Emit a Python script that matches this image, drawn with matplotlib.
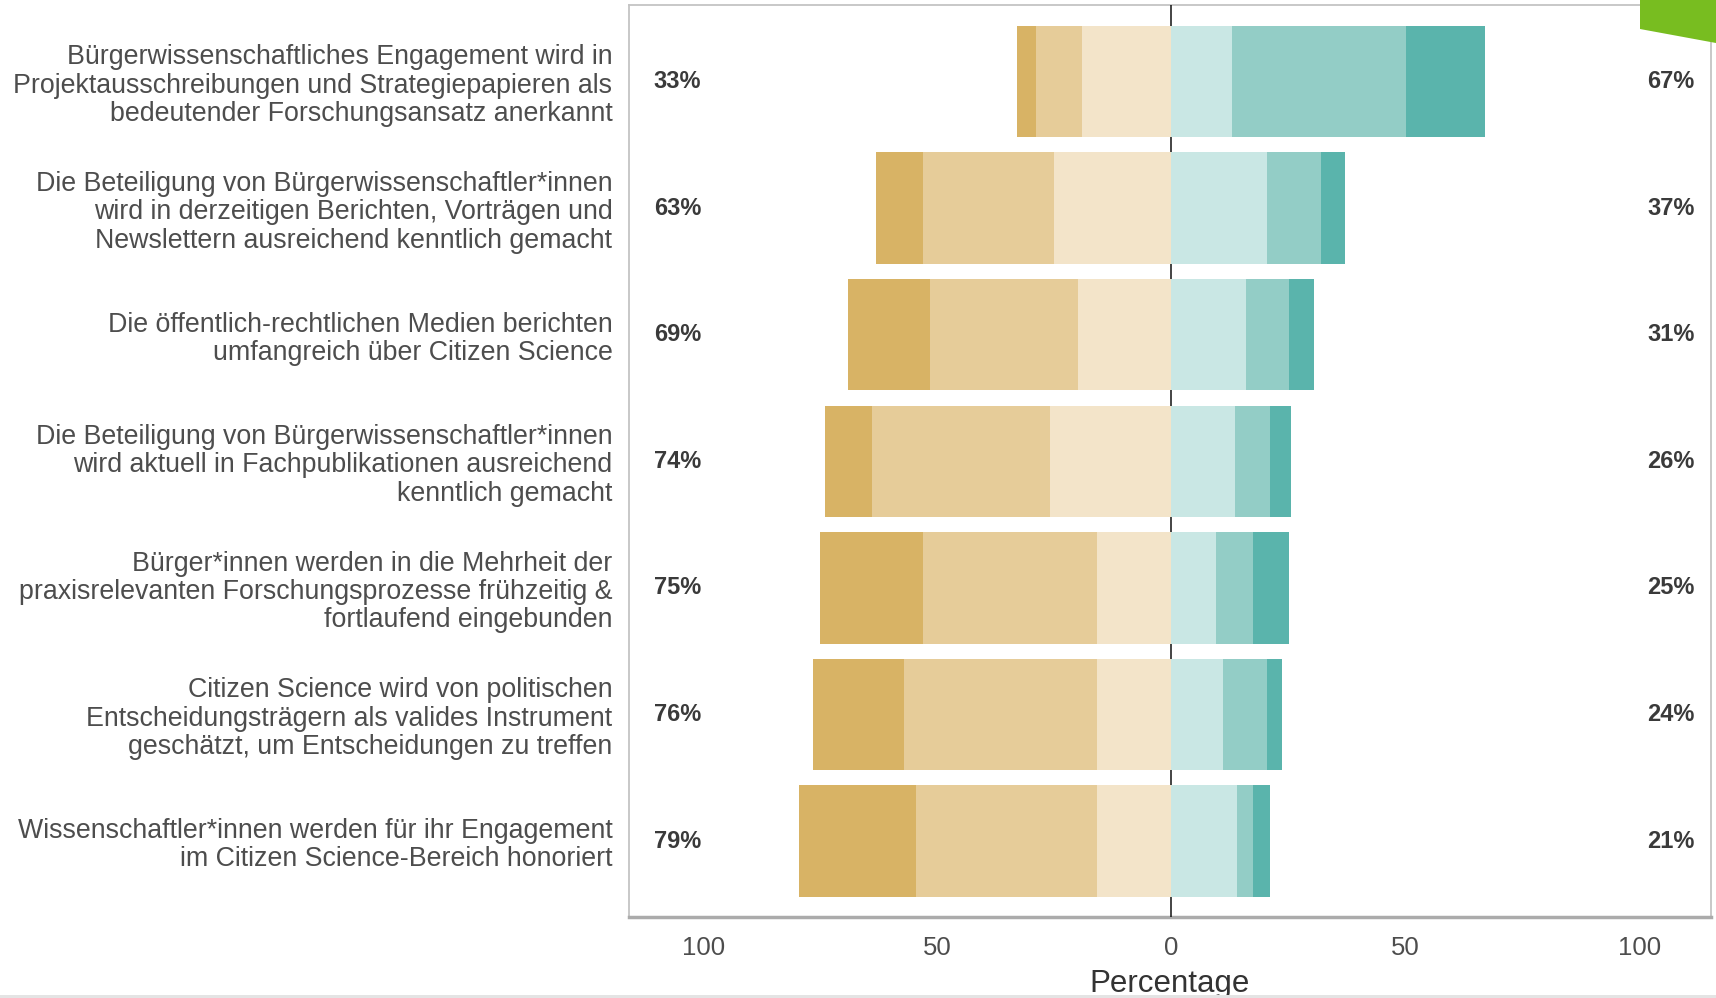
import matplotlib
matplotlib.use('Agg')
import matplotlib.pyplot as plt
from matplotlib.patches import Polygon, Rectangle
import numpy as np

plt.rcParams['font.family'] = ['Liberation Sans', 'DejaVu Sans']

statements = [
    'Bürgerwissenschaftliches Engagement wird in\nProjektausschreibungen und Strategiepapieren als\nbedeutender Forschungsansatz anerkannt',
    'Die Beteiligung von Bürgerwissenschaftler*innen\nwird in derzeitigen Berichten, Vorträgen und\nNewslettern ausreichend kenntlich gemacht',
    'Die öffentlich-rechtlichen Medien berichten\numfangreich über Citizen Science',
    'Die Beteiligung von Bürgerwissenschaftler*innen\nwird aktuell in Fachpublikationen ausreichend\nkenntlich gemacht',
    'Bürger*innen werden in die Mehrheit der\npraxisrelevanten Forschungsprozesse frühzeitig &\nfortlaufend eingebunden',
    'Citizen Science wird von politischen\nEntscheidungsträgern als valides Instrument\ngeschätzt, um Entscheidungen zu treffen',
    'Wissenschaftler*innen werden für ihr Engagement\nim Citizen Science-Bereich honoriert',
]

# shares in percent, each side listed from the centre outwards
disagree_weak = [19, 25, 20, 26, 16, 16, 16]
disagree = [10, 28, 31.5, 38, 37, 41, 38.5]
disagree_strong = [4, 10, 17.5, 10, 22, 19.5, 25]
agree_weak = [13, 20.5, 16, 13.5, 9.5, 11, 14]
agree = [37, 11.5, 9, 7.5, 8, 9.5, 3.5]
agree_strong = [17, 5, 5.5, 4.5, 7.5, 3, 3.5]

pct_low = [33, 63, 69, 74, 75, 76, 79]
pct_high = [67, 37, 31, 26, 25, 24, 21]

xticks = [-100, -50, 0, 50, 100]
xtick_labels = ['100', '50', '0', '50', '100']
minor_ticks = [-75, -25, 25, 75]

left_colors = ['#f3e4c9', '#e6cc99', '#d8b365']
right_colors = ['#c9e7e4', '#93cdc6', '#5ab4ac']

fig = plt.figure(figsize=(17.16, 9.98), dpi=100)
ax = fig.add_axes([0.3666, 0.0812, 0.6305, 0.9133])

y = np.arange(len(statements))[::-1] + 1
h = 0.88

# left side (negative)
start = np.zeros(len(y))
for vals, col in zip([disagree_weak, disagree, disagree_strong], left_colors):
    vals = np.array(vals)
    ax.barh(y, -vals, left=-start, height=h, color=col, zorder=3, linewidth=0)
    start = start + vals
# right side
start = np.zeros(len(y))
for vals, col in zip([agree_weak, agree, agree_strong], right_colors):
    vals = np.array(vals)
    ax.barh(y, vals, left=start, height=h, color=col, zorder=3, linewidth=0)
    start = start + vals

ax.axvline(0, color='#111111', lw=1.1, zorder=2.6)

for yi, lo, hi in zip(y, pct_low, pct_high):
    ax.text(-105.5, yi, f'{lo}%', ha='center', va='center', fontsize=17,
            fontweight='bold', color='#3a3a3a')
    ax.text(106.7, yi, f'{hi}%', ha='center', va='center', fontsize=17,
            fontweight='bold', color='#3a3a3a')

ax.set_xlim(-115.8, 115.2)
ax.set_ylim(0.4, 7.6)
ax.set_yticks(y)
ax.set_yticklabels(statements, fontsize=19.3, color='#4d4d4d', linespacing=1.12)
ax.set_xticks(xticks)
ax.set_xticklabels(xtick_labels, fontsize=18.5, color='#4d4d4d')
ax.set_xticks(minor_ticks, minor=True)
ax.tick_params(axis='y', length=0, pad=12)
ax.tick_params(axis='x', which='both', direction='inout', length=7, width=2,
               color='white', top=True, pad=10)
ax.set_xlabel('Percentage', fontsize=22.5, color='#333333', labelpad=7)

for side in ['top', 'left', 'right']:
    ax.spines[side].set_color('#c4c4c4')
    ax.spines[side].set_linewidth(1.3)
ax.spines['bottom'].set_color('#ababab')
ax.spines['bottom'].set_linewidth(2.5)

# corner decoration and bottom strip
fig.add_artist(Polygon([(16.40, 9.98), (17.16, 9.98), (17.16, 9.55), (16.40, 9.69)],
                       closed=True, facecolor='#78bd20', edgecolor='none',
                       transform=fig.dpi_scale_trans, zorder=10))
fig.add_artist(Rectangle((0, 0), 17.16, 0.03, facecolor='#e4e4e4', edgecolor='none',
                         transform=fig.dpi_scale_trans, zorder=10))

fig.savefig('out.png', dpi=100)
